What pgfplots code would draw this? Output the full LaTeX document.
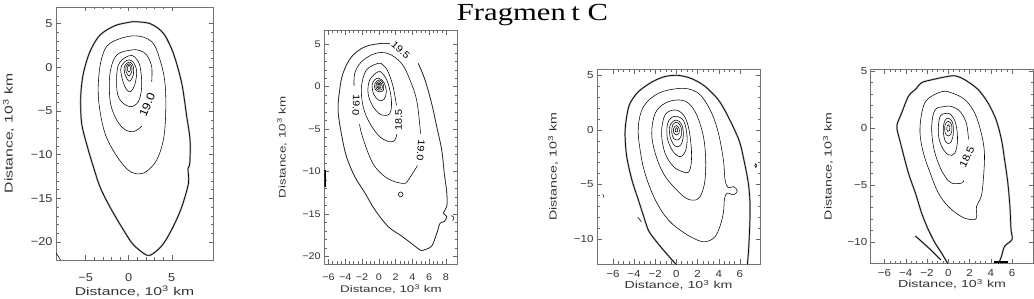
\documentclass[border=0pt]{standalone}
\usepackage{fontspec}
\usepackage{graphicx}
\usepackage{pgfplots}
\pgfplotsset{compat=1.18}
\setmainfont{Liberation Serif}
\newfontfamily\idl{Liberation Sans}
\newcommand\fA{\idl\fontsize{11.3}{13}\selectfont}
\newcommand\fB{\idl\fontsize{9.6}{11}\selectfont}
\newcommand\fC{\idl\fontsize{10.2}{12}\selectfont}
\newcommand\SL[1]{\scalebox{1.39}[1]{#1}}
\newcommand\ST[1]{\scalebox{1.13}[1]{#1}}
\pgfplotsset{
  cplot/.style={scale only axis, anchor=south west, tick align=inside,
    axis line style={black!55, line width=0.5pt},
    every tick/.style={black!60, line width=0.4pt},
    major tick length=4.5pt, minor tick length=2.5pt,
    tick label style={text=black!80}, label style={text=black!80},
    xlabel={\SL{Distance, 10\textsuperscript{3} km}},
    ylabel={\SL{Distance, 10\textsuperscript{3} km}},
    clip=true},
  cc/.style={black, line width=0.55pt, smooth cycle, tension=0.6},
  co/.style={black, line width=0.55pt, smooth, tension=0.6},
  halo/.style={black!30, line width=1.8pt, smooth, tension=0.5},
  ho/.style={black, line width=0.7pt, smooth, tension=0.5},
}
\begin{document}
\begin{tikzpicture}
\path[use as bounding box] (0,0) rectangle (1034pt,-299pt);
\node[anchor=base, font=\fontsize{24.5}{28}\selectfont] at (532.5pt,-21pt) {\scalebox{1.25}[1]{Fragmen\kern4.5pt t C}};

% ---------------- Panel 1 ----------------
\begin{axis}[cplot, at={(56pt,-260pt)}, width=157pt, height=253pt,
  xmin=-8.45, xmax=9.8, ymin=-22.05, ymax=6.9,
  xtick={-5,0,5}, xticklabels={\ST{−5},\ST{0},\ST{5}}, minor x tick num=4,
  ytick={-20,-15,-10,-5,0,5}, yticklabels={\ST{−20},\ST{−15},\ST{−10},\ST{−5},\ST{0},\ST{5}}, minor y tick num=4,
  tick label style={font=\fA}, label style={font=\fA},
  xticklabel style={yshift=-10pt},
  xlabel style={at={(axis description cs:0.5,-0.1253)}, anchor=center},
  ylabel style={at={(axis description cs:-0.3025,0.5)}, anchor=center}]
\addplot[halo] coordinates {(0.54,5.23) (2.48,5.0) (4.03,3.9) (5.19,1.6) (6.16,-1.8) (6.74,-5.6) (7.13,-8.3) (7.1,-11.0) (6.9,-11.6) (6.94,-13.3) (6.16,-16) (5.19,-18.2) (4.03,-20.2) (2.87,-21.3) (2.09,-21.5) (0.54,-20.3) (-0.62,-18.6) (-2.17,-16.0) (-3.33,-13.7) (-4.1,-11.4) (-4.8,-9.1) (-5.47,-6.4) (-5.58,-3.36) (-5.27,-0.7) (-4.5,1.8) (-3.33,3.7) (-1.5,4.8) (0.54,5.23)};
\addplot[ho] coordinates {(0.54,5.23) (2.48,5.0) (4.03,3.9) (5.19,1.6) (6.16,-1.8) (6.74,-5.6) (7.13,-8.3) (7.1,-11.0) (6.9,-11.6) (6.94,-13.3) (6.16,-16) (5.19,-18.2) (4.03,-20.2) (2.87,-21.3) (2.09,-21.5) (0.54,-20.3) (-0.62,-18.6) (-2.17,-16.0) (-3.33,-13.7) (-4.1,-11.4) (-4.8,-9.1) (-5.47,-6.4) (-5.58,-3.36) (-5.27,-0.7) (-4.5,1.8) (-3.33,3.7) (-1.5,4.8) (0.54,5.23)};
\addplot[cc] coordinates {(0.54,3.6) (2.67,2.94) (3.64,0.84) (4.22,-1.83) (4.3,-5.27) (4.03,-8.3) (3.26,-10.6) (2.09,-11.9) (0.93,-12.2) (-0.23,-11.6) (-1.59,-9.85) (-2.75,-7.56) (-3.41,-4.5) (-3.53,-1.83) (-3.14,1.03) (-2.17,2.75)};
\addplot[co] coordinates {(2.67,-1.64) (2.67,0.08) (2.09,1.41) (1.32,1.9) (0.35,1.98) (-1.4,1.4) (-2.17,-0.69) (-2.17,-3.74) (-1.59,-5.65) (-0.62,-7.0) (0.54,-7.37) (1.5,-6.75)};
\addplot[cc] coordinates {(-0.04,1.3) (0.74,1.15) (1.32,0.08) (1.51,-2.2) (1.12,-3.93) (0.15,-4.5) (-1.0,-3.74) (-1.4,-2.2) (-1.2,0.27)};
\addplot[cc] coordinates {(0.08,0.84) (0.6,0.5) (0.93,-0.5) (0.7,-2.0) (0.15,-2.8) (-0.5,-2.1) (-0.93,-0.3) (-0.5,0.6)};
\addplot[cc] coordinates {(0.05,0.6) (0.5,0.2) (0.55,-0.8) (0.1,-1.6) (-0.4,-0.9) (-0.5,0.1)};
\addplot[cc] coordinates {(0.05,0.4) (0.35,0.1) (0.35,-0.5) (0.05,-1.0) (-0.3,-0.5) (-0.3,0.1)};
\addplot[cc] coordinates {(0.05,0.25) (0.2,0) (0.2,-0.3) (0.05,-0.55) (-0.15,-0.3) (-0.15,0)};
\addplot[co] coordinates {(-8.5,-21.2) (-8.2,-21.6) (-7.9,-22.1)};
\node[font=\fA, rotate=68, inner sep=0pt] at (axis cs:2.15,-4.3) {\ST{19.0}};
\end{axis}

% ---------------- Panel 2 ----------------
\begin{axis}[cplot, at={(324.3pt,-264pt)}, width=133.4pt, height=233.3pt,
  xmin=-6.5, xmax=9.4, ymin=-20.9, ymax=6.6,
  xtick={-6,-4,-2,0,2,4,6,8}, xticklabels={\ST{−6},\ST{−4},\ST{−2},\ST{0},\ST{2},\ST{4},\ST{6},\ST{8}}, minor x tick num=3,
  ytick={-20,-15,-10,-5,0,5}, yticklabels={\ST{−20},\ST{−15},\ST{−10},\ST{−5},\ST{0},\ST{5}}, minor y tick num=4,
  tick label style={font=\fB}, label style={font=\fB},
  xticklabel style={yshift=-6.4pt, inner xsep=0pt},
  xlabel style={at={(axis description cs:0.5,-0.1084)}, anchor=center},
  ylabel style={at={(axis description cs:-0.317,0.5)}, anchor=center}]
\addplot[halo, black!20, line width=1.2pt] coordinates {(4.7,2.75) (5.5,0.8) (6.3,-2.0) (6.9,-4.7) (7.5,-7.5) (7.8,-10.2) (8.1,-12.5) (8.1,-14.1) (7.7,-14.9) (8.1,-15.3) (7.8,-15.9) (7.3,-16.1) (6.9,-17.3) (6.3,-18.8) (5.5,-19.2) (5.0,-19.3) (4.31,-18.8) (2.71,-17.6) (1.12,-16.5) (-0.48,-14.5) (-1.67,-12.5) (-2.87,-10.6) (-3.87,-8.2) (-4.47,-5.5) (-4.86,-2.75) (-4.67,-0.4) (-4.27,1.57) (-3.27,3.5) (-1.67,4.7) (0.32,5.1) (1.3,5.05)};
\addplot[co] coordinates {(4.7,2.75) (5.5,0.8) (6.3,-2.0) (6.9,-4.7) (7.5,-7.5) (7.8,-10.2) (8.1,-12.5) (8.1,-14.1) (7.7,-14.9) (8.1,-15.3) (7.8,-15.9) (7.3,-16.1) (6.9,-17.3) (6.3,-18.8) (5.5,-19.2) (5.0,-19.3) (4.31,-18.8) (2.71,-17.6) (1.12,-16.5) (-0.48,-14.5) (-1.67,-12.5) (-2.87,-10.6) (-3.87,-8.2) (-4.47,-5.5) (-4.86,-2.75) (-4.67,-0.4) (-4.27,1.57) (-3.27,3.5) (-1.67,4.7) (0.32,5.1) (1.3,5.05)};
\addplot[co] coordinates {(-2.95,0.1) (-2.87,1.57) (-2.07,2.94) (-0.48,3.9) (1.12,3.9) (2.71,2.75) (3.71,0.8) (4.5,-1.57) (4.9,-4.7) (4.95,-5.6)};
\addplot[co] coordinates {(4.6,-9.3) (4.3,-9.8) (3.5,-11.0) (3.1,-11.4) (1.9,-11.2) (0.72,-10.6) (-0.48,-9.4) (-1.28,-7.8) (-2.07,-5.5) (-2.3,-4.4)};
\addplot[co] coordinates {(2.1,-2.2) (1.7,0) (1.1,1.76) (0.5,2.55) (-0.08,2.75) (-1.48,1.96) (-2.07,0) (-1.87,-2.35) (-1.08,-4.3) (0.12,-5.9) (1.32,-6.5) (1.9,-6.3) (2.15,-5.6)};
\addplot[cc] coordinates {(-0.08,1.76) (0.5,1.5) (1.1,0.4) (1.5,-1.57) (1.32,-3.14) (0.32,-3.33) (-0.68,-2.35) (-1.28,-0.8) (-1.08,0.8)};
\addplot[cc] coordinates {(0.0,1.0) (0.6,0.5) (0.9,-0.6) (0.6,-1.5) (0.0,-1.6) (-0.6,-0.9) (-0.8,0.2) (-0.5,0.8)};
\addplot[cc] coordinates {(0.05,0.8) (0.5,0.4) (0.55,-0.4) (0.1,-0.6) (-0.45,-0.3) (-0.45,0.4)};
\addplot[cc] coordinates {(0.05,0.6) (0.35,0.3) (0.4,-0.25) (0.05,-0.4) (-0.3,-0.2) (-0.3,0.35)};
\addplot[cc] coordinates {(0.05,0.45) (0.25,0.25) (0.25,-0.1) (0.05,-0.25) (-0.2,-0.05) (-0.2,0.3)};
\addplot[cc] coordinates {(0.05,0.3) (0.15,0.15) (0.12,-0.05) (0.0,-0.1) (-0.1,0.05) (-0.08,0.2)};
\addplot[cc] coordinates {(2.6,-12.4) (2.9,-12.7) (2.6,-13.0) (2.3,-12.7)};
\addplot[co] coordinates {(8.6,-15.2) (8.95,-15.4) (8.8,-15.8)};
\addplot[black, line width=1.5pt] coordinates {(-6.42,-9.8) (-6.42,-11.8)};
\node[font=\fB, rotate=-42, inner sep=0pt] at (axis cs:2.6,4.35) {\ST{19.5}};
\node[font=\fB, rotate=-92, inner sep=0pt] at (axis cs:-2.7,-2.15) {\ST{19.0}};
\node[font=\fB, rotate=-95, inner sep=0pt] at (axis cs:5.0,-7.45) {\ST{19.0}};
\node[font=\fB, rotate=90, inner sep=0pt] at (axis cs:2.35,-3.9) {\ST{18.5}};
\end{axis}

% ---------------- Panel 3 ----------------
\begin{axis}[cplot, at={(597pt,-264pt)}, width=163pt, height=194.7pt,
  xmin=-7.5, xmax=7.9, ymin=-12.3, ymax=5.56,
  xtick={-6,-4,-2,0,2,4,6}, xticklabels={\ST{−6},\ST{−4},\ST{−2},\ST{0},\ST{2},\ST{4},\ST{6}}, minor x tick num=3,
  ytick={-10,-5,0,5}, yticklabels={\ST{−10},\ST{−5},\ST{0},\ST{5}}, minor y tick num=4,
  tick label style={font=\fC}, label style={font=\fC},
  xticklabel style={yshift=-3.2pt},
  xlabel style={at={(axis description cs:0.5,-0.1089)}, anchor=center},
  ylabel style={at={(axis description cs:-0.27,0.5)}, anchor=center}]
\addplot[halo] coordinates {(0.03,-12.4) (-1.07,-11.2) (-2.0,-10.1) (-2.65,-9.2) (-3.1,-7.9) (-3.6,-6.4) (-4.2,-4.6) (-4.7,-2.4) (-4.85,-0.3) (-4.7,1.2) (-4.4,2.4) (-3.6,3.5) (-2.3,4.4) (-1.07,4.9) (0.19,5.0) (1.45,4.7) (2.7,4.0) (3.97,2.75) (4.9,1.2) (5.9,-0.9) (6.3,-2.4) (6.8,-4.9) (6.96,-7.0) (6.9,-9.5) (6.8,-11.3) (6.7,-12.4)};
\addplot[ho] coordinates {(0.03,-12.4) (-1.07,-11.2) (-2.0,-10.1) (-2.65,-9.2) (-3.1,-7.9) (-3.6,-6.4) (-4.2,-4.6) (-4.7,-2.4) (-4.85,-0.3) (-4.7,1.2) (-4.4,2.4) (-3.6,3.5) (-2.3,4.4) (-1.07,4.9) (0.19,5.0) (1.45,4.7) (2.7,4.0) (3.97,2.75) (4.9,1.2) (5.9,-0.9) (6.3,-2.4) (6.8,-4.9) (6.96,-7.0) (6.9,-9.5) (6.8,-11.3) (6.7,-12.4)};
\addplot[cc] coordinates {(0.19,3.8) (1.45,3.67) (2.4,3.06) (3.34,1.53) (3.97,-0.3) (4.44,-2.75) (4.6,-4.6) (4.9,-5.3) (5.4,-5.2) (5.75,-5.6) (5.4,-5.95) (4.8,-5.8) (4.55,-6.3) (4.44,-7.6) (4.1,-8.9) (3.65,-9.8) (3.0,-10.2) (2.24,-10.2) (0.82,-9.5) (-0.76,-8.26) (-2.0,-6.4) (-2.96,-4.0) (-3.43,-1.83) (-3.6,0.3) (-3.1,2.14) (-1.7,3.36)};
\addplot[cc] coordinates {(0.19,2.75) (1.13,2.45) (1.92,1.38) (2.55,-0.6) (2.77,-2.75) (2.7,-4.6) (2.4,-5.8) (1.92,-6.4) (0.98,-6.3) (-0.13,-5.35) (-1.23,-4.0) (-2.0,-2.14) (-2.33,-0.3) (-2.0,1.53) (-1.07,2.45)};
\addplot[cc] coordinates {(-0.13,1.83) (0.66,1.38) (1.13,0.3) (1.4,-1.53) (1.4,-3.06) (1.13,-3.9) (0.5,-3.8) (-0.28,-3.36) (-1.07,-2.14) (-1.4,-0.3) (-1.07,1.38)};
\addplot[cc] coordinates {(0.05,1.25) (0.7,0.8) (1.0,-0.5) (0.9,-1.8) (0.4,-2.45) (-0.3,-2.0) (-0.85,-0.8) (-0.85,0.5) (-0.5,1.1)};
\addplot[cc] coordinates {(0.0,0.9) (0.5,0.5) (0.66,-0.5) (0.4,-1.4) (-0.1,-1.5) (-0.55,-0.8) (-0.66,0.2) (-0.4,0.7)};
\addplot[cc] coordinates {(0.0,0.7) (0.4,0.35) (0.5,-0.4) (0.2,-0.9) (-0.25,-0.8) (-0.44,-0.2) (-0.35,0.45)};
\addplot[cc] coordinates {(0.0,0.4) (0.25,0.15) (0.25,-0.3) (0.0,-0.45) (-0.25,-0.25) (-0.25,0.15)};
\addplot[cc] coordinates {(0.0,0.2) (0.12,0.05) (0.1,-0.15) (-0.05,-0.2) (-0.12,-0.05)};
\addplot[cc] coordinates {(7.5,-3.1) (7.6,-3.27) (7.5,-3.45) (7.4,-3.27)};
\addplot[co] coordinates {(-6.95,-5.9) (-6.85,-6.2)};
\addplot[co] coordinates {(-3.65,-8.0) (-3.3,-8.45)};
\end{axis}

% ---------------- Panel 4 ----------------
\begin{axis}[cplot, at={(870.7pt,-263.3pt)}, width=162.6pt, height=194.3pt,
  xmin=-7.3, xmax=8.0, ymin=-11.9, ymax=5.2,
  xtick={-6,-4,-2,0,2,4,6}, xticklabels={\ST{−6},\ST{−4},\ST{−2},\ST{0},\ST{2},\ST{4},\ST{6}}, minor x tick num=3,
  ytick={-10,-5,0,5}, yticklabels={\ST{−10},\ST{−5},\ST{0},\ST{5}}, minor y tick num=4,
  tick label style={font=\fC}, label style={font=\fC},
  xticklabel style={yshift=-3.0pt},
  xlabel style={at={(axis description cs:0.5,-0.1065)}, anchor=center},
  ylabel style={at={(axis description cs:-0.2626,0.5)}, anchor=center}]
\addplot[halo] coordinates {(0,-12.0) (-0.63,-11.0) (-1.25,-10.1) (-1.9,-8.9) (-2.5,-7.5) (-3.1,-5.7) (-3.75,-3.96) (-4.5,-1.3) (-4.84,0.15) (-4.4,1.3) (-3.75,2.8) (-3.1,3.4) (-2.5,4.0) (-1.56,4.25) (-0.31,4.5) (0.62,4.6) (1.56,4.25) (2.8,3.4) (3.75,2.2) (4.5,0.73) (5.0,-1.0) (5.3,-2.8) (5.6,-4.8) (5.8,-6.9) (5.9,-8.9) (6.0,-9.8) (5.3,-10.4) (5.0,-11.3) (4.7,-12.0)};
\addplot[ho] coordinates {(0,-12.0) (-0.63,-11.0) (-1.25,-10.1) (-1.9,-8.9) (-2.5,-7.5) (-3.1,-5.7) (-3.75,-3.96) (-4.5,-1.3) (-4.84,0.15) (-4.4,1.3) (-3.75,2.8) (-3.1,3.4) (-2.5,4.0) (-1.56,4.25) (-0.31,4.5) (0.62,4.6) (1.56,4.25) (2.8,3.4) (3.75,2.2) (4.5,0.73) (5.0,-1.0) (5.3,-2.8) (5.6,-4.8) (5.8,-6.9) (5.9,-8.9) (6.0,-9.8) (5.3,-10.4) (5.0,-11.3) (4.7,-12.0)};
\addplot[halo] coordinates {(-3.1,-9.5) (-1.9,-10.5) (-0.7,-11.6)};
\addplot[ho] coordinates {(-3.1,-9.5) (-1.9,-10.5) (-0.7,-11.6)};
\addplot[black, line width=2pt] coordinates {(4.3,-11.75) (5.6,-11.75)};
\addplot[cc] coordinates {(-0.63,3.2) (0.31,3.1) (1.56,2.5) (2.5,1.3) (3.1,-0.44) (3.4,-2.2) (3.3,-4.5) (3.1,-6.0) (2.66,-6.9) (2.66,-7.9) (2.2,-8.06) (1.25,-7.8) (0,-6.9) (-0.94,-5.7) (-1.7,-3.96) (-2.34,-2.2) (-2.66,-0.44) (-2.5,1.3) (-2.0,2.5)};
\addplot[co] coordinates {(1.9,-1.0) (1.7,0.44) (1.1,1.47) (0.31,1.9) (-0.31,1.9) (-1.25,1.6) (-1.56,0.15) (-1.4,-1.6) (-0.94,-3.08) (-0.31,-4.25) (0.31,-4.84) (1.25,-4.84) (1.45,-4.6)};
\addplot[cc] coordinates {(-0.16,1.3) (0.25,1.17) (0.69,0.44) (0.87,-1.0) (0.62,-2.2) (0,-2.35) (-0.63,-1.6) (-0.94,-0.44) (-0.78,1.0)};
\addplot[cc] coordinates {(0.0,0.88) (0.4,0.5) (0.47,-0.5) (0.2,-1.3) (-0.25,-1.2) (-0.47,-0.3) (-0.35,0.6)};
\addplot[cc] coordinates {(0.0,0.6) (0.3,0.3) (0.3,-0.4) (0.0,-0.7) (-0.3,-0.4) (-0.3,0.3)};
\addplot[cc] coordinates {(0.0,0.3) (0.15,0.1) (0.12,-0.2) (-0.05,-0.3) (-0.15,-0.1) (-0.1,0.2)};
\node[font=\fC, rotate=65, inner sep=0pt] at (axis cs:1.75,-2.55) {\ST{18.5}};
\end{axis}
\end{tikzpicture}
\end{document}
